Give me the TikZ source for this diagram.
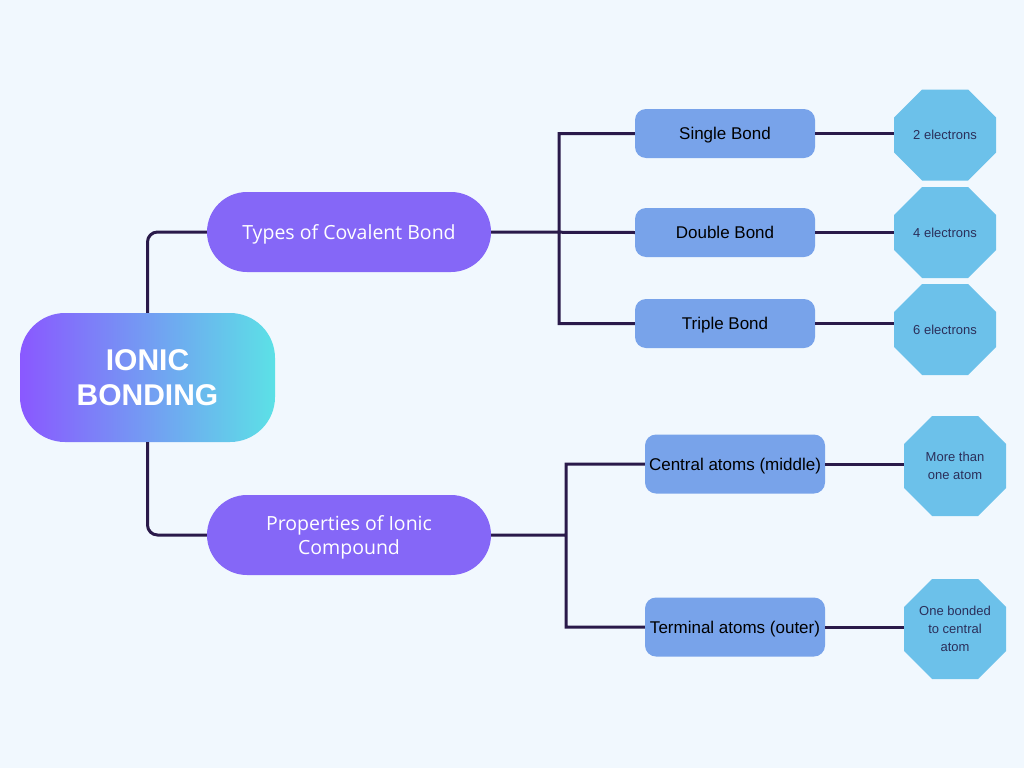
\documentclass[tikz,border=0pt]{standalone}
\usepackage{fontspec}
\setmainfont{Liberation Sans}
\newfontfamily\branchfont{Open Sans}
\usepackage{xcolor}
\definecolor{bgblue}{HTML}{F1F8FE}
\definecolor{rootleft}{HTML}{8A58FF}
\definecolor{rootright}{HTML}{5CE1E6}
\definecolor{branchpurple}{HTML}{8567F7}
\definecolor{subblue}{HTML}{78A3EA}
\definecolor{leafblue}{HTML}{6CC1EA}
\definecolor{linkdark}{HTML}{2A1A4A}
\definecolor{leaftext}{HTML}{2B2F5A}
\usepackage{tikz}
\newcommand{\widthbranch}{284pt}
\newcommand{\widthsub}{180pt}
\newcommand{\widthleaf}{102pt}
\newcommand{\chamfer}{28pt}
\tikzset{
    common/.style={inner sep=0pt, align=center},
    rootbox/.style={common, rounded corners=45pt, minimum width=255pt, minimum height=129pt,
        left color=rootleft, right color=rootright, text=white,
        font=\fontsize{30}{35}\selectfont\bfseries},
    branchbox/.style={common, rounded corners=40pt, fill=branchpurple, minimum width=\widthbranch,
        minimum height=80pt, text=white, text depth=0pt, font=\branchfont\fontsize{19.5}{24}\selectfont},
    subbox/.style={common, rounded corners=11pt, fill=subblue, minimum width=\widthsub,
        minimum height=49pt, text depth=0pt, font=\fontsize{17}{20}\selectfont},
    leafbox/.style={common, text=leaftext, minimum width=\widthleaf, minimum height=91pt,
        font=\fontsize{13}{18}\selectfont,
        path picture={
            \fill[leafblue]
                ([xshift=\chamfer]path picture bounding box.north west)
                -- ([xshift=-\chamfer]path picture bounding box.north east)
                -- ([yshift=-\chamfer]path picture bounding box.north east)
                -- ([yshift=\chamfer]path picture bounding box.south east)
                -- ([xshift=-\chamfer]path picture bounding box.south east)
                -- ([xshift=\chamfer]path picture bounding box.south west)
                -- ([yshift=\chamfer]path picture bounding box.south west)
                -- ([yshift=-\chamfer]path picture bounding box.north west) -- cycle;
        }},
    connector/.style={draw=linkdark, line width=3pt}
}
\begin{document}
\begin{tikzpicture}[x=1pt, y=-1pt]
        \fill[bgblue] (0,0) rectangle (1024,768);
        \useasboundingbox (0,0) rectangle (1024,768);

        % centre and branches
        \node[rootbox] (ionic) at (147.5,377.5) {IONIC\\BONDING};
        \node[branchbox] (types) at (349,232) {Types of Covalent Bond};
        \node[branchbox] (props) at (349,535) {Properties of Ionic\\Compound};

        % sub topics
        \node[subbox] (single) at (725,133.5) {Single Bond};
        \node[subbox] (double) at (725,232.5) {Double Bond};
        \node[subbox] (triple) at (725,323.5) {Triple Bond};
        \node[subbox, minimum height=59pt] (central) at (735,464) {Central atoms (middle)};
        \node[subbox, minimum height=59pt] (terminal) at (735,627) {Terminal atoms (outer)};

        % details
        \node[leafbox] (two) at (945,135) {2 electrons};
        \node[leafbox] (four) at (945,232.5) {4 electrons};
        \node[leafbox] (six) at (945,329.5) {6 electrons};
        \node[leafbox, minimum height=100pt] (more) at (955,466) {More than\\one atom};
        \node[leafbox, minimum height=100pt] (onebonded) at (955,629) {One bonded\\to central\\atom};

        \coordinate (typesjoint) at (559,232);
        \coordinate (propsjoint) at (566,535);

        \draw[connector, rounded corners=10pt]
          (ionic.north) |- (types.west)
          (ionic.south) |- (props.west);

        \draw[connector]
          (types.east) -- (double.west)
          (single.west) -| (typesjoint) |- (triple.west)
          (props.east) -- (propsjoint)
          (central.west) -| (propsjoint) |- (terminal.west);

        \draw[connector]
          (single.east) -- (single.east -| two.west)
          (double.east) -- (double.east -| four.west)
          (triple.east) -- (triple.east -| six.west)
          (central.east) -- (central.east -| more.west)
          (terminal.east) -- (terminal.east -| onebonded.west);
    \end{tikzpicture}
\end{document}
